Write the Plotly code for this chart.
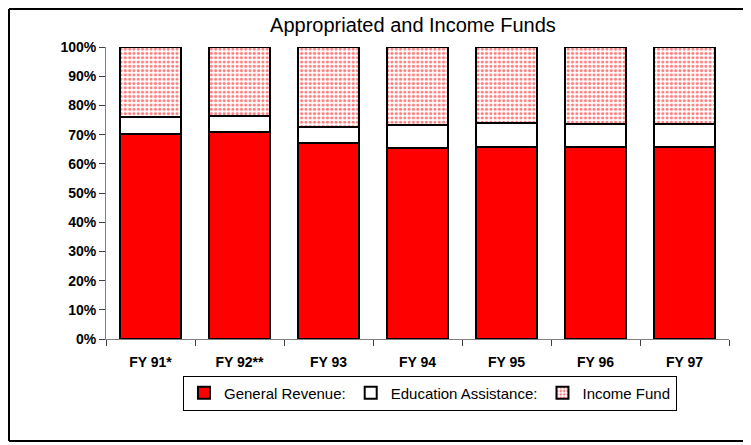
import plotly.graph_objects as go

# fiscal years on the x axis
years = ["FY 91*", "FY 92**", "FY 93", "FY 94", "FY 95", "FY 96", "FY 97"]

# share of total funds, in percent
general_revenue = [70.2, 70.9, 67.0, 65.5, 65.8, 65.8, 65.6]
education_assistance = [5.8, 5.5, 5.5, 7.8, 8.1, 7.8, 8.0]
income_fund = [round(100 - g - e, 1) for g, e in zip(general_revenue, education_assistance)]

y_ticks = list(range(0, 101, 10))
y_tick_labels = [f"{t}%" for t in y_ticks]

font_family = "Liberation Sans, Arial, sans-serif"

fig = go.Figure()

fig.add_trace(go.Bar(
    x=years, y=general_revenue, name="General Revenue:",
    marker=dict(color="#ff0000", line=dict(color="black", width=2)),
))
fig.add_trace(go.Bar(
    x=years, y=education_assistance, name="Education Assistance:",
    marker=dict(color="white", line=dict(color="black", width=2)),
))
fig.add_trace(go.Bar(
    x=years, y=income_fund, name="Income Fund",
    marker=dict(
        color="white",
        line=dict(color="black", width=2),
        pattern=dict(shape=".", fgcolor="#ff0000", bgcolor="white",
                     size=4.3, solidity=0.42, fillmode="overlay"),
    ),
))

# outer frame: left, top and bottom edges only (the right edge is off the page)
frame_left, frame_right, frame_bottom, frame_top = -0.1557, 1.5, -0.349, 1.13
frame_line = dict(color="black", width=2)

# the page puts the figure 8px in from the top-left corner
fig.update_layout(
    width=743, height=437,
    margin=dict(l=98, r=22, t=39, b=106),
    barmode="stack",
    bargap=0.32,
    paper_bgcolor="white",
    plot_bgcolor="white",
    font=dict(family=font_family, color="black"),
    title=dict(text="Appropriated and Income Funds", x=0.545, xanchor="center",
               y=0.961, yanchor="middle", font=dict(size=20)),
    showlegend=True,
    legend=dict(
        orientation="h", x=0.52, xanchor="center", y=-0.125, yanchor="top",
        bordercolor="black", borderwidth=1, bgcolor="white",
        font=dict(size=15), traceorder="normal",
        itemwidth=30, tracegroupgap=0,
    ),
    shapes=[
        dict(type="line", xref="paper", yref="paper", layer="below", line=frame_line,
             x0=frame_left, x1=frame_left, y0=frame_bottom, y1=frame_top),
        dict(type="line", xref="paper", yref="paper", layer="below", line=frame_line,
             x0=frame_left, x1=frame_right, y0=frame_top, y1=frame_top),
        dict(type="line", xref="paper", yref="paper", layer="below", line=frame_line,
             x0=frame_left, x1=frame_right, y0=frame_bottom, y1=frame_bottom),
    ],
)

fig.update_xaxes(
    showline=True, linecolor="#808080", linewidth=1,
    ticks="outside", tickson="boundaries", ticklen=6, tickcolor="#404040",
    ticklabelstandoff=10,
    tickfont=dict(size=14, family=font_family, weight="bold"),
    showgrid=False,
)
fig.update_yaxes(
    range=[0, 100], tickvals=y_ticks, ticktext=y_tick_labels,
    showline=True, linecolor="#808080", linewidth=1,
    ticks="outside", ticklen=6, tickcolor="#404040",
    tickfont=dict(size=14, family=font_family, weight="bold"),
    showgrid=False, zeroline=False,
)

fig.write_html("out.html")
